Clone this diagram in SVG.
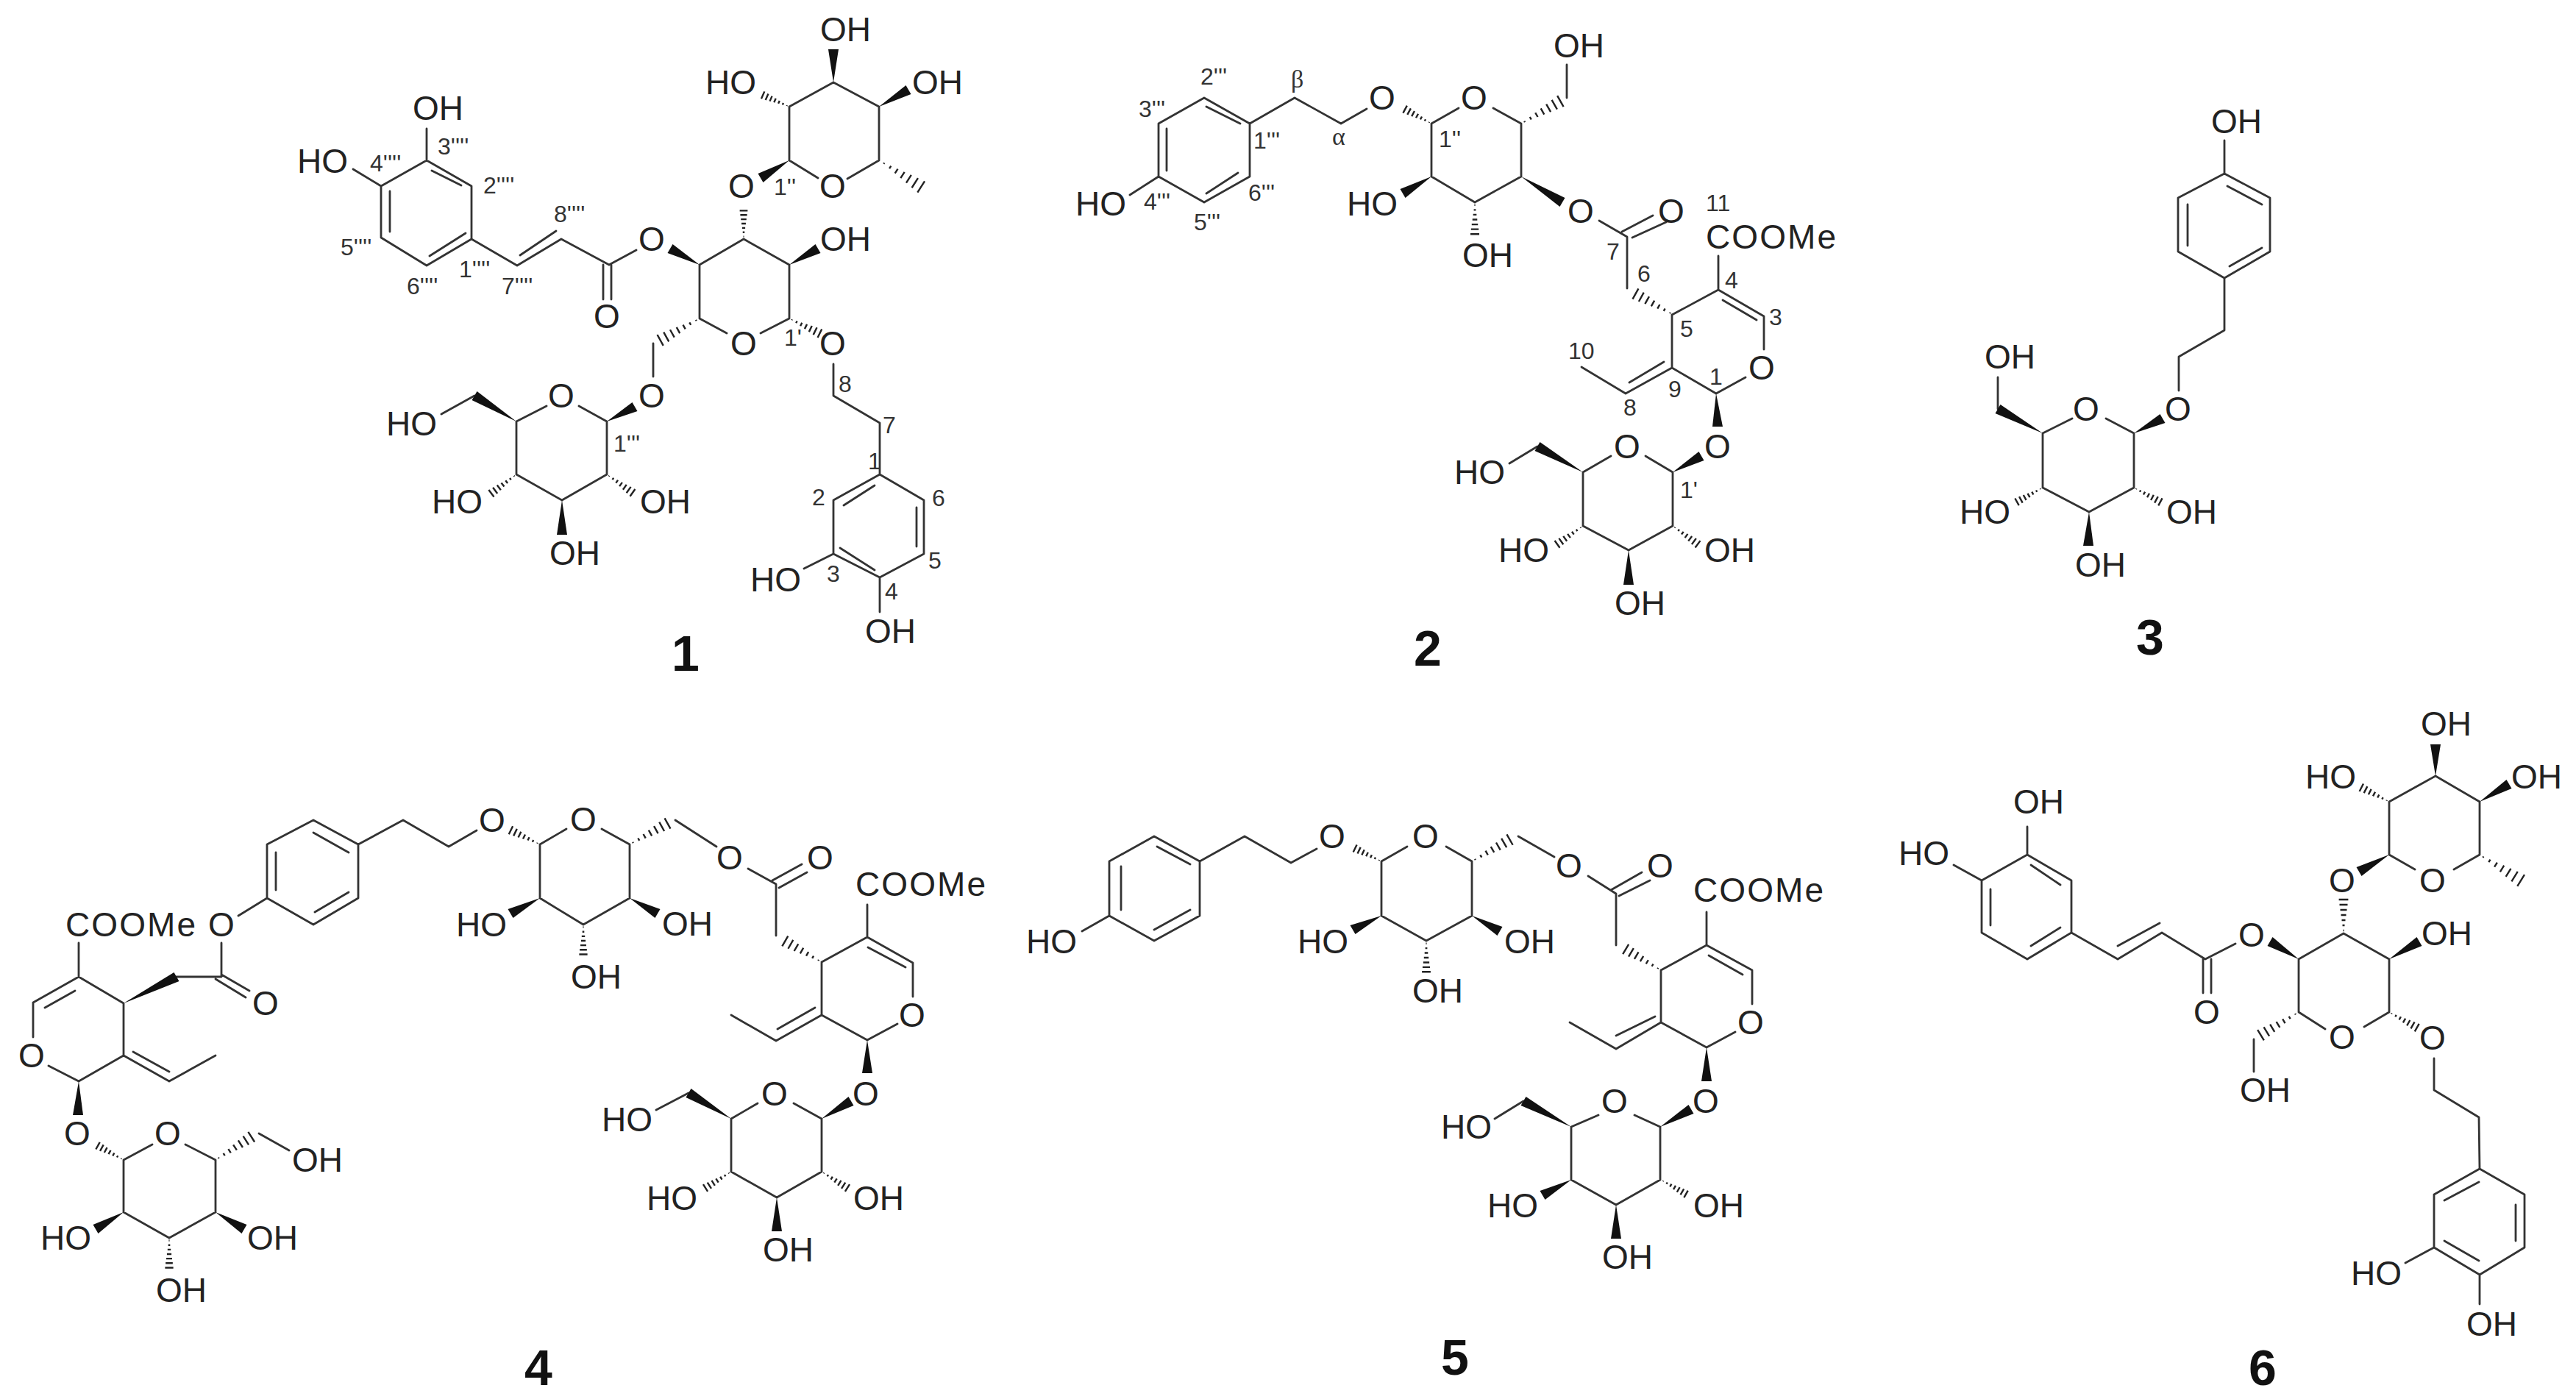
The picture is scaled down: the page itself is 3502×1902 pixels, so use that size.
<svg xmlns="http://www.w3.org/2000/svg" xmlns:xlink="http://www.w3.org/1999/xlink" width="3502" height="1902" viewBox="0 0 3502 1902">
<style>
.b{fill:none;stroke:#333;stroke-width:2.8;stroke-linecap:round;stroke-linejoin:round}
.w{fill:#111;stroke:none}
.a,.am,.l,.n,.g{font-family:"Liberation Sans",Arial,sans-serif;fill:#222}
.a{font-size:46px}
.am{font-size:46px;text-anchor:middle}
.l{font-size:32px;fill:#333}
.g{font-family:"Liberation Serif","Times New Roman",serif;font-size:34px;fill:#333}
.n{font-size:68px;font-weight:bold;fill:#111;text-anchor:middle}
.hs{fill:none;stroke:#222;stroke-width:2.4;vector-effect:non-scaling-stroke}
</style>
<defs>
<path id="h" class="hs" d="M4 -.6V.6M11 -1.5V1.5M18 -2.5V2.5M25 -3.5V3.5M32 -4.5V4.5M39 -5.5V5.5M46 -6.4V6.4"/>
</defs>
<rect width="3502" height="1902" fill="#fff"/>

<g id="compound-1">
<g class="bonds">
<path class="b" d="M580 218L641 253V325L580 361L518 323V253ZM587 232L627 252M530 260V315M584 348L633 317M580 218V175M518 253L480 230M641 325L703 361L763 325L828 360L865 340M707 347L756 314M820 360V407M831 360V407M951 360L1011 325L1073 360V433L1034 453M988 453L951 433V360M1112 242L1073 218V145L1133 112L1195 145V218L1152 243M888 467V512M825 645V573L787 552M743 552L702 573V645L764 680L825 645M645 538L600 563M1133 495V538L1196 575V645L1256 680V753L1196 785L1133 753V680L1196 645M1147 687L1189 660M1142 745L1189 775M1246 690V743M1133 753L1093 773M1196 785V832"/>
<polygon class="w" points="951,360 907.5,344 914.5,332"/>
<polygon class="w" points="1073,360 1115.5,344 1108.5,332"/>
<polygon class="w" points="1073,218 1037.5,248 1030.5,236"/>
<polygon class="w" points="1133,112 1126,67 1140,67"/>
<polygon class="w" points="1195,145 1238.5,128 1231.5,116"/>
<polygon class="w" points="825,573 866.5,559 859.5,547"/>
<polygon class="w" points="702,573 641.5,544 648.5,532"/>
<polygon class="w" points="764,680 757,727 771,727"/>
<use href="#h" transform="matrix(0 -.84 .84 0 1011 325)"/>
<use href="#h" transform="matrix(1.2 .76 -.76 1.2 1197 219)"/>
<use href="#h" transform="matrix(-.78 -.34 .34 -.78 1073 145)"/>
<use href="#h" transform="matrix(.9 .44 -.44 .9 1073 433)"/>
<use href="#h" transform="matrix(-1.16 .64 -.64 -1.16 951 433)"/>
<use href="#h" transform="matrix(-.74 .56 -.56 -.74 702 645)"/>
<use href="#h" transform="matrix(.76 .54 -.54 .76 825 645)"/>
</g>
<text class="a" x="561" y="163">OH</text>
<text class="a" x="404" y="235">HO</text>
<text class="am" x="825" y="446">O</text>
<text class="am" x="886" y="341">O</text>
<text class="am" x="1008" y="269">O</text>
<text class="a" x="1115" y="341">OH</text>
<text class="am" x="1132" y="269">O</text>
<text class="a" x="959" y="128">HO</text>
<text class="a" x="1115" y="56">OH</text>
<text class="a" x="1240" y="128">OH</text>
<text class="am" x="1011" y="483">O</text>
<text class="am" x="1132" y="483">O</text>
<text class="am" x="886" y="554">O</text>
<text class="am" x="763" y="554">O</text>
<text class="a" x="525" y="592">HO</text>
<text class="a" x="587" y="698">HO</text>
<text class="a" x="870" y="698">OH</text>
<text class="a" x="747" y="768">OH</text>
<text class="a" x="1020" y="804">HO</text>
<text class="a" x="1176" y="874">OH</text>
<text class="l" x="595" y="210">3''''</text>
<text class="l" x="503" y="233">4''''</text>
<text class="l" x="657" y="263">2''''</text>
<text class="l" x="463" y="347">5''''</text>
<text class="l" x="553" y="400">6''''</text>
<text class="l" x="624" y="377">1''''</text>
<text class="l" x="682" y="400">7''''</text>
<text class="l" x="753" y="302">8''''</text>
<text class="l" x="1052" y="265">1''</text>
<text class="l" x="1066" y="470">1'</text>
<text class="l" x="834" y="614">1'''</text>
<text class="l" x="1140" y="533">8</text>
<text class="l" x="1200" y="589">7</text>
<text class="l" x="1180" y="638">1</text>
<text class="l" x="1104" y="687">2</text>
<text class="l" x="1267" y="688">6</text>
<text class="l" x="1262" y="773">5</text>
<text class="l" x="1124" y="791">3</text>
<text class="l" x="1203" y="815">4</text>
<text class="n" x="932" y="912">1</text>
</g>

<g id="compound-2">
<g class="bonds">
<path class="b" d="M1637 133L1699 168V240L1637 275L1575 240V168ZM1640 145L1686 168M1586 175V232M1640 263L1683 235M1575 240L1536 265M1699 168L1760 133L1823 168L1858 148M1983 147L1946 168V240L2005 275L2068 240V168L2030 147M2130 133V88M2174 300L2212 322V392M2205 315L2247 293M2219 323L2265 302M2273 428L2336 394L2398 430V475M2373 513L2333 535L2273 500V428M2342 408L2388 435M2336 394V348M2273 500L2210 535L2150 499M2215 520L2262 492M2190 620L2152 642V715L2214 748L2274 715V642L2237 620M2090 607L2052 630"/>
<polygon class="w" points="1946,240 1910.5,269 1903.5,257"/>
<polygon class="w" points="2068,240 2120.5,281 2127.5,269"/>
<polygon class="w" points="2333,535 2328,580 2342,580"/>
<polygon class="w" points="2274,642 2316.5,626 2309.5,614"/>
<polygon class="w" points="2152,642 2086.5,613 2093.5,601"/>
<polygon class="w" points="2214,748 2207,795 2221,795"/>
<use href="#h" transform="matrix(-.78 -.42 .42 -.78 1946 168)"/>
<use href="#h" transform="matrix(1.16 -.66 .66 1.16 2068 168)"/>
<use href="#h" transform="matrix(0 .94 -.94 0 2005 275)"/>
<use href="#h" transform="matrix(-1.12 -.62 .62 -1.12 2275 428)"/>
<use href="#h" transform="matrix(-.76 .54 -.54 -.76 2152 715)"/>
<use href="#h" transform="matrix(.74 .54 -.54 .74 2274 715)"/>
</g>
<text class="a" x="1462" y="293">HO</text>
<text class="am" x="1879" y="149">O</text>
<text class="am" x="2004" y="149">O</text>
<text class="a" x="2112" y="78">OH</text>
<text class="a" x="1831" y="293">HO</text>
<text class="a" x="1988" y="363">OH</text>
<text class="am" x="2149" y="303">O</text>
<text class="am" x="2272" y="303">O</text>
<text class="a" x="2319" y="338" textLength="177">COOMe</text>
<text class="am" x="2395" y="516">O</text>
<text class="am" x="2335" y="623">O</text>
<text class="am" x="2212" y="623">O</text>
<text class="a" x="1977" y="658">HO</text>
<text class="a" x="2037" y="764">HO</text>
<text class="a" x="2317" y="764">OH</text>
<text class="a" x="2195" y="836">OH</text>
<text class="l" x="1632" y="115">2'''</text>
<text class="l" x="1548" y="159">3'''</text>
<text class="g" x="1755" y="119">β</text>
<text class="g" x="1811" y="197">α</text>
<text class="l" x="1704" y="202">1'''</text>
<text class="l" x="1956" y="200">1''</text>
<text class="l" x="1697" y="273">6'''</text>
<text class="l" x="1555" y="285">4'''</text>
<text class="l" x="1623" y="313">5'''</text>
<text class="l" x="2319" y="287">11</text>
<text class="l" x="2184" y="353">7</text>
<text class="l" x="2226" y="383">6</text>
<text class="l" x="2345" y="392">4</text>
<text class="l" x="2284" y="458">5</text>
<text class="l" x="2405" y="442">3</text>
<text class="l" x="2132" y="488">10</text>
<text class="l" x="2268" y="540">9</text>
<text class="l" x="2207" y="565">8</text>
<text class="l" x="2324" y="523">1</text>
<text class="l" x="2284" y="677">1'</text>
<text class="n" x="1941" y="905">2</text>
</g>

<g id="compound-3">
<g class="bonds">
<path class="b" d="M3024 191V236L3086 269V342L3024 378L2961 342V269L3024 236M3028 253L3075 278M2974 278V334M3031 362L3075 337M3024 378V449L2962 485V531M2863 569L2901 589V663L2840 696L2777 663V589L2817 569M2716 556V513"/>
<polygon class="w" points="2901,589 2943.5,575 2936.5,563"/>
<polygon class="w" points="2777,589 2712.5,562 2719.5,550"/>
<polygon class="w" points="2840,696 2832,742 2846,742"/>
<use href="#h" transform="matrix(-.76 .42 -.42 -.76 2777 663)"/>
<use href="#h" transform="matrix(.78 .42 -.42 .78 2901 663)"/>
</g>
<text class="a" x="3006" y="181">OH</text>
<text class="am" x="2961" y="572">O</text>
<text class="am" x="2836" y="572">O</text>
<text class="a" x="2698" y="501">OH</text>
<text class="a" x="2664" y="712">HO</text>
<text class="a" x="2945" y="712">OH</text>
<text class="a" x="2821" y="784">OH</text>
<text class="n" x="2923" y="890">3</text>
</g>

<g id="compound-4">
<g class="bonds">
<path class="b" d="M45 1410V1363L107 1328L168 1364V1435L107 1470L66 1449M61 1370L102 1347M107 1328V1282M240 1328H301M301 1325L339 1347M293 1331L334 1356M301 1328V1282M324 1245L363 1221V1148L426 1115L487 1148V1221L426 1257L363 1221M375 1159V1210M426 1132L474 1159M428 1240L474 1213M168 1435L230 1470L293 1435M181 1430L230 1457M487 1148L548 1115L610 1151L648 1129M770 1127L734 1148V1221L793 1257L856 1221V1148L818 1127M918 1115L974 1151M1017 1181L1055 1202V1272M1050 1197L1090 1175M1059 1207L1097 1186M1117 1308L1179 1274L1241 1309V1355M1220 1392L1179 1414L1117 1380V1308M1180 1288L1231 1315M1179 1274V1230M1117 1380L1055 1415L994 1380M1057 1399L1108 1370M1079 1500L1117 1521V1593L1056 1628L994 1593V1521L1030 1500M936 1486L892 1509M207 1556L168 1577V1648L230 1683L293 1648V1577L252 1556M352 1541L393 1564"/>
<polygon class="w" points="168,1364 243.5,1334 236.5,1322"/>
<polygon class="w" points="107,1470 99,1516 113,1516"/>
<polygon class="w" points="168,1648 133.5,1677 126.5,1665"/>
<polygon class="w" points="293,1648 328.5,1677 335.5,1665"/>
<polygon class="w" points="734,1221 697.5,1248 690.5,1236"/>
<polygon class="w" points="856,1221 890.5,1248 897.5,1236"/>
<polygon class="w" points="1179,1414 1172,1459 1186,1459"/>
<polygon class="w" points="1117,1521 1160.5,1503 1153.5,1491"/>
<polygon class="w" points="994,1521 932.5,1492 939.5,1480"/>
<polygon class="w" points="1056,1628 1049,1674 1063,1674"/>
<use href="#h" transform="matrix(-.86 -.42 .42 -.86 734 1148)"/>
<use href="#h" transform="matrix(0 .88 -.88 0 793 1257)"/>
<use href="#h" transform="matrix(1.12 -.62 .62 1.12 856 1148)"/>
<use href="#h" transform="matrix(-1.08 -.62 .62 -1.08 1117 1308)"/>
<use href="#h" transform="matrix(-.76 .48 -.48 -.76 994 1593)"/>
<use href="#h" transform="matrix(.76 .48 -.48 .76 1117 1593)"/>
<use href="#h" transform="matrix(-.76 -.42 .42 -.76 168 1577)"/>
<use href="#h" transform="matrix(1.06 -.68 .68 1.06 293 1577)"/>
<use href="#h" transform="matrix(0 .88 -.88 0 230 1683)"/>
</g>
<text class="a" x="89" y="1273" textLength="177">COOMe</text>
<text class="am" x="43" y="1451">O</text>
<text class="am" x="301" y="1273">O</text>
<text class="am" x="361" y="1380">O</text>
<text class="am" x="669" y="1131">O</text>
<text class="am" x="793" y="1130">O</text>
<text class="a" x="620" y="1273">HO</text>
<text class="a" x="776" y="1344">OH</text>
<text class="a" x="900" y="1272">OH</text>
<text class="am" x="992" y="1182">O</text>
<text class="am" x="1115" y="1182">O</text>
<text class="a" x="1163" y="1218" textLength="177">COOMe</text>
<text class="am" x="1240" y="1396">O</text>
<text class="am" x="1177" y="1503">O</text>
<text class="am" x="1053" y="1503">O</text>
<text class="a" x="818" y="1538">HO</text>
<text class="a" x="879" y="1645">HO</text>
<text class="a" x="1160" y="1645">OH</text>
<text class="a" x="1037" y="1715">OH</text>
<text class="am" x="105" y="1557">O</text>
<text class="am" x="228" y="1557">O</text>
<text class="a" x="397" y="1593">OH</text>
<text class="a" x="55" y="1699">HO</text>
<text class="a" x="336" y="1699">OH</text>
<text class="a" x="212" y="1770">OH</text>
<text class="n" x="732" y="1883">4</text>
</g>

<g id="compound-5">
<g class="bonds">
<path class="b" d="M1569 1137L1631 1171V1245L1569 1279L1508 1245V1171ZM1573 1151L1618 1175M1524 1178V1237M1569 1264L1618 1237M1508 1245L1471 1266M1631 1171L1692 1137L1755 1173L1790 1154M1913 1151L1878 1171V1245L1939 1279L2001 1245V1171L1966 1151M2064 1137L2113 1165M2159 1191L2197 1215V1285M2190 1210L2232 1186M2201 1218L2243 1197M2258 1319L2320 1285L2382 1319V1365M2359 1403L2320 1424L2258 1390V1319M2323 1299L2369 1325M2320 1285V1240M2258 1390L2197 1426L2134 1390M2197 1408L2250 1382M2222 1516L2257 1532V1604L2197 1638L2136 1604V1532L2173 1516M2071 1497L2032 1521"/>
<polygon class="w" points="1878,1245 1842.5,1270 1835.5,1258"/>
<polygon class="w" points="2001,1245 2035.5,1272 2042.5,1260"/>
<polygon class="w" points="2320,1424 2313,1470 2327,1470"/>
<polygon class="w" points="2257,1532 2302.5,1514 2295.5,1502"/>
<polygon class="w" points="2136,1532 2067.5,1503 2074.5,1491"/>
<polygon class="w" points="2136,1604 2100.5,1631 2093.5,1619"/>
<polygon class="w" points="2197,1638 2190,1684 2204,1684"/>
<use href="#h" transform="matrix(-.78 -.38 .38 -.78 1878 1171)"/>
<use href="#h" transform="matrix(0 .92 -.92 0 1939 1279)"/>
<use href="#h" transform="matrix(1.12 -.64 .64 1.12 2001 1171)"/>
<use href="#h" transform="matrix(-1.04 -.62 .62 -1.04 2258 1319)"/>
<use href="#h" transform="matrix(.74 .42 -.42 .74 2258 1604)"/>
</g>
<text class="a" x="1395" y="1296">HO</text>
<text class="am" x="1811" y="1153">O</text>
<text class="am" x="1938" y="1153">O</text>
<text class="a" x="1764" y="1296">HO</text>
<text class="a" x="1920" y="1363">OH</text>
<text class="a" x="2045" y="1296">OH</text>
<text class="am" x="2133" y="1193">O</text>
<text class="am" x="2257" y="1193">O</text>
<text class="a" x="2302" y="1226" textLength="177">COOMe</text>
<text class="am" x="2380" y="1406">O</text>
<text class="am" x="2319" y="1513">O</text>
<text class="am" x="2195" y="1513">O</text>
<text class="a" x="1959" y="1548">HO</text>
<text class="a" x="2022" y="1655">HO</text>
<text class="a" x="2302" y="1655">OH</text>
<text class="a" x="2178" y="1725">OH</text>
<text class="n" x="1978" y="1869">5</text>
</g>

<g id="compound-6">
<g class="bonds">
<path class="b" d="M2756 1162L2816 1197V1268L2756 1304L2694 1268V1197ZM2761 1176L2801 1203M2706 1209V1258M2761 1286L2801 1261M2756 1162V1124M2694 1197L2656 1176M2816 1268L2879 1304L2939 1268L2998 1304L3039 1283M2879 1286L2936 1255M2995 1304V1350M3006 1304V1350M3161 1399L3125 1376V1304L3186 1269L3248 1304V1376L3214 1396M3283 1182L3248 1162V1090L3311 1055L3371 1090V1162L3336 1182M3064 1413V1457M3309 1439V1482L3370 1519L3371 1589L3432 1624V1696L3371 1733L3309 1696V1624L3371 1589M3370 1607L3323 1632M3420 1638V1687M3323 1687L3370 1714M3309 1696L3270 1717M3371 1733V1773"/>
<polygon class="w" points="3125,1304 3082.5,1286 3089.5,1274"/>
<polygon class="w" points="3248,1304 3292.5,1286 3285.5,1274"/>
<polygon class="w" points="3248,1162 3210.5,1191 3203.5,1179"/>
<polygon class="w" points="3311,1055 3304,1012 3318,1012"/>
<polygon class="w" points="3371,1090 3414.5,1072 3407.5,1060"/>
<use href="#h" transform="matrix(0 -1 1 0 3186 1269)"/>
<use href="#h" transform="matrix(-.82 -.42 .42 -.82 3248 1090)"/>
<use href="#h" transform="matrix(1.22 .76 -.76 1.22 3371 1162)"/>
<use href="#h" transform="matrix(-1.12 .68 -.68 -1.12 3125 1376)"/>
<use href="#h" transform="matrix(.82 .46 -.46 .82 3248 1376)"/>
</g>
<text class="a" x="2737" y="1106">OH</text>
<text class="a" x="2581" y="1176">HO</text>
<text class="am" x="3000" y="1392">O</text>
<text class="am" x="3061" y="1287">O</text>
<text class="am" x="3184" y="1213">O</text>
<text class="a" x="3292" y="1285">OH</text>
<text class="am" x="3307" y="1213">O</text>
<text class="a" x="3134" y="1072">HO</text>
<text class="a" x="3291" y="1000">OH</text>
<text class="a" x="3414" y="1072">OH</text>
<text class="am" x="3184" y="1426">O</text>
<text class="am" x="3307" y="1427">O</text>
<text class="a" x="3045" y="1498">OH</text>
<text class="a" x="3196" y="1747">HO</text>
<text class="a" x="3353" y="1816">OH</text>
<text class="n" x="3076" y="1883">6</text>
</g>
</svg>
